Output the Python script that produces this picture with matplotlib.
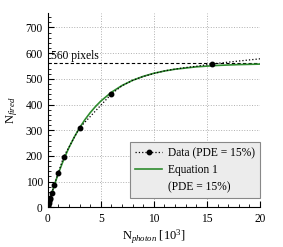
import matplotlib
matplotlib.use("Agg")
import matplotlib.pyplot as plt
from matplotlib.ticker import MultipleLocator
from matplotlib.lines import Line2D

plt.rcParams['font.family'] = ['Liberation Serif', 'DejaVu Serif']
plt.rcParams['mathtext.fontset'] = 'custom'
plt.rcParams['mathtext.rm'] = 'Liberation Serif'
plt.rcParams['mathtext.it'] = 'Liberation Serif:italic'

# Measured data (N_photon in 10^3, N_fired)
data_x = [0.03, 0.06, 0.1, 0.15, 0.2, 0.25, 0.4, 0.6, 1.0, 1.5, 3.0, 6.0,
          7.0, 8.0, 9.0, 10.0, 11.0, 12.0, 13.0, 14.0, 15.5, 17.0, 20.0]
data_y = [5, 10, 17, 25, 31, 37, 57, 86, 134, 197, 309, 441,
          473, 494, 509, 521, 531, 538, 544, 549, 558, 565, 578]
# indices of data points drawn with a marker
marked = [0, 1, 2, 3, 4, 5, 6, 7, 8, 9, 10, 11, 20]

# Equation 1 curve (PDE = 15%), tabulated
eq_x = [0, 0.25, 0.5, 0.75, 1, 1.5, 2, 2.5, 3, 3.5, 4, 4.5, 5, 6, 7, 8, 9, 10, 11, 12, 14, 16, 18, 20]
eq_y = [0, 36.3, 70.2, 101.9, 131.6, 185.3, 232.3, 273.3, 309.3, 340.7, 368.2, 392.2, 413.3,
        447.7, 474.1, 494.3, 509.7, 521.6, 530.6, 537.5, 546.8, 552.3, 555.5, 557.4]

n_pixels = 560

fig = plt.figure(figsize=(2.83, 2.47), dpi=100)
ax = fig.add_axes([0.1686, 0.1607, 0.7501, 0.7853])

ax.grid(True, which='major', color='#b0b0b0', linestyle=':', linewidth=0.7)
ax.set_axisbelow(True)

ax.axhline(n_pixels, color='black', linestyle='--', linewidth=0.8, dashes=(3, 2))
ax.text(0.3, n_pixels + 4, '560 pixels', fontsize=8.3, va='bottom', ha='left')

ax.plot(eq_x, eq_y, color='#2e8b2e', linewidth=1.2, zorder=3)
ax.plot(data_x, data_y, color='black', linestyle=':', linewidth=0.9, marker='o',
        markersize=3.2, markevery=marked, zorder=4)

ax.set_xlim(0, 20)
ax.set_ylim(0, 755)
ax.xaxis.set_major_locator(MultipleLocator(5))
ax.xaxis.set_minor_locator(MultipleLocator(1))
ax.yaxis.set_major_locator(MultipleLocator(100))
ax.yaxis.set_minor_locator(MultipleLocator(20))
ax.tick_params(which='both', direction='in', labelsize=8.3, top=False, right=False)
ax.tick_params(which='major', length=4, width=0.8)
ax.tick_params(which='minor', length=2, width=0.6)
ax.tick_params(axis='x', pad=4)

ax.spines['top'].set_visible(False)
ax.spines['right'].set_visible(False)

ax.set_xlabel(r'N$_{\mathit{photon}}$ [10$^{3}$]', fontsize=9, labelpad=2)
ax.set_ylabel(r'N$_{\mathit{fired}}$', fontsize=9)

handles = [
    Line2D([], [], color='black', linestyle=':', linewidth=0.9, marker='o', markersize=3.2),
    Line2D([], [], color='#2e8b2e', linewidth=1.2),
    Line2D([], [], color='none'),
]
labels = ['Data (PDE = 15%)', 'Equation 1', '(PDE = 15%)']
leg = ax.legend(handles, labels, loc='lower left', bbox_to_anchor=(0.388, 0.048),
                borderaxespad=0, fontsize=8.3, frameon=True, fancybox=False,
                handlelength=2.4, handletextpad=0.5, labelspacing=0.45,
                borderpad=0.4)
leg.get_frame().set_facecolor('#ececec')
leg.get_frame().set_edgecolor('#888888')
leg.get_frame().set_linewidth(0.8)
leg.get_frame().set_alpha(1)

fig.savefig('out.png', dpi=100)
